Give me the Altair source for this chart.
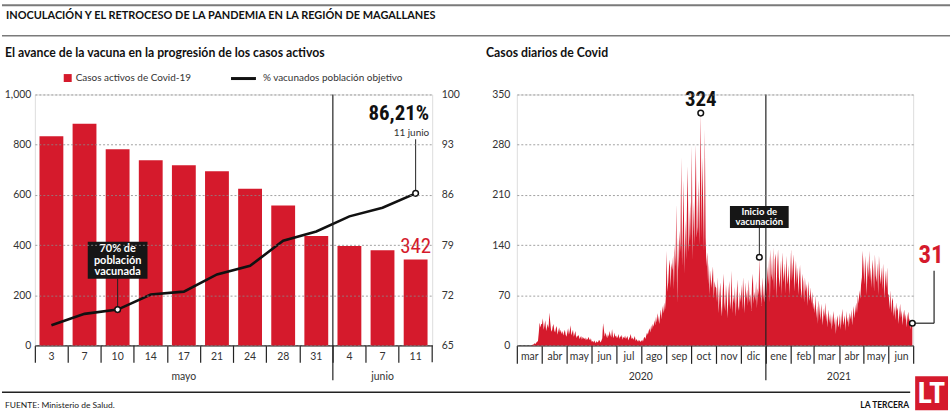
import altair as alt
import pandas as pd

# ------------------------------------------------------------------ data
dias = ["3", "7", "10", "14", "17", "21", "24", "28", "31", "4", "7", "11"]
meses = ["mayo"] * 9 + ["junio"] * 3
casos_activos = [834, 883, 782, 738, 718, 694, 624, 558, 436, 396, 379, 342]
pct_vacunados = [67.8, 69.4, 70.0, 72.1, 72.5, 74.9, 76.1, 79.6, 80.9, 83.0, 84.2, 86.21]
ticks_casos = [0, 200, 400, 600, 800, 1000]
ticks_pct = [65, 72, 79, 86, 93, 100]

ticks_diarios = [0, 70, 140, 210, 280, 350]
meses_cortos = ["ene", "feb", "mar", "abr", "may", "jun", "jul", "ago", "sep", "oct", "nov", "dic"]

d2020_03 = [0, 0, 0, 0, 0, 0, 0, 0, 0, 0, 0, 0, 0, 0, 0, 0, 0, 0, 0,
            1, 1, 2, 3, 2, 4, 5, 6, 18, 32, 25, 30]
d2020_04 = [30, 38, 22, 28, 35, 20, 25, 30, 24, 46, 33, 22, 19, 26, 30, 21, 18, 24, 27, 15,
            20, 25, 18, 22, 16, 20, 14, 18, 22, 15]
d2020_05 = [12, 18, 24, 15, 20, 28, 14, 18, 22, 12, 16, 20, 10, 14, 12, 15, 9, 11, 13, 8,
            12, 10, 9, 11, 7, 10, 8, 12, 9, 7, 10]
d2020_06 = [5, 6, 4, 7, 5, 3, 6, 4, 5, 8, 6, 4, 7, 10, 31, 22, 12, 18, 14, 10,
            16, 12, 20, 15, 11, 23, 14, 10, 18, 12]
d2020_07 = [14, 10, 12, 16, 9, 13, 11, 15, 8, 12, 10, 14, 9, 11, 13, 7, 10, 12, 16, 9,
            11, 8, 10, 13, 6, 9, 7, 5, 8, 6, 5]
d2020_08 = [6, 8, 5, 10, 12, 9, 14, 18, 15, 20, 24, 18, 28, 22, 30, 26, 35, 28, 40, 32,
            45, 38, 30, 42, 50, 36, 55, 45, 60, 48, 65]
d2020_09 = [132, 75, 88, 110, 120, 80, 115, 105, 125, 78, 140, 110, 197, 58, 150, 105, 160, 130, 262, 110,
            165, 230, 100, 175, 120, 190, 250, 130, 155, 200]
d2020_10 = [145, 278, 120, 200, 140, 210, 280, 150, 165, 230, 140, 215, 324, 150, 262, 195, 130, 301, 150, 110,
            130, 85, 115, 70, 105, 80, 95, 110, 65, 90, 82]
d2020_11 = [80, 60, 95, 45, 70, 88, 55, 40, 75, 100, 60, 48, 85, 65, 38, 72, 90, 50, 62, 104,
            45, 70, 58, 82, 40, 66, 92, 55, 48, 75]
d2020_12 = [60, 85, 50, 95, 70, 45, 88, 65, 78, 55, 92, 60, 72, 48, 86, 100, 58, 75, 62, 90,
            52, 80, 70, 123, 65, 85, 55, 95, 72, 60, 88]
d2021_01 = [95, 70, 110, 85, 125, 60, 134, 100, 90, 137, 75, 120, 128, 65, 110, 134, 95, 80, 118, 70,
            130, 105, 88, 115, 72, 125, 98, 85, 112, 70, 100]
d2021_02 = [134, 90, 110, 127, 75, 100, 118, 85, 109, 70, 95, 112, 80, 65, 100, 88, 60, 95, 75, 86,
            55, 90, 70, 62, 81, 58, 75, 50]
d2021_03 = [60, 45, 70, 38, 55, 30, 63, 48, 35, 58, 42, 28, 52, 40, 60, 33, 45, 25, 50, 38,
            30, 44, 22, 36, 48, 28, 40, 16, 34, 42, 25]
d2021_04 = [30, 44, 22, 38, 51, 28, 35, 42, 20, 48, 32, 40, 25, 46, 36, 50, 28, 42, 55, 38,
            49, 60, 45, 70, 58, 77, 65, 85, 95, 132]
d2021_05 = [110, 85, 125, 100, 70, 118, 95, 132, 90, 109, 80, 120, 105, 75, 127, 98, 88, 115, 70, 125,
            100, 85, 109, 78, 114, 92, 65, 105, 80, 109, 72]
d2021_06 = [70, 50, 77, 45, 62, 67, 40, 55, 35, 60, 48, 53, 30, 45, 58, 38, 49, 28, 42, 50,
            35, 44, 25, 40, 47, 33, 38, 22, 35, 31]

serie_meses = {
    "2020-03": d2020_03, "2020-04": d2020_04, "2020-05": d2020_05, "2020-06": d2020_06,
    "2020-07": d2020_07, "2020-08": d2020_08, "2020-09": d2020_09, "2020-10": d2020_10,
    "2020-11": d2020_11, "2020-12": d2020_12, "2021-01": d2021_01, "2021-02": d2021_02,
    "2021-03": d2021_03, "2021-04": d2021_04, "2021-05": d2021_05, "2021-06": d2021_06,
}
fecha_vacunacion = "2020-12-24"
fecha_division = "2021-01-01"

# ------------------------------------------------------------------ tables
keys = [f"{d} {m}" for d, m in zip(dias, meses)]
df_left = pd.DataFrame({"key": keys, "casos": casos_activos, "pct": pct_vacunados})

rows = []
for mes, vals in serie_meses.items():
    start = pd.Timestamp(mes + "-01")
    for i, v in enumerate(vals):
        rows.append({"fecha": start + pd.Timedelta(days=i), "casos": v})
df_daily = pd.DataFrame(rows)
df_peak = df_daily[df_daily.casos == df_daily.casos.max()]
df_vac = df_daily[df_daily.fecha == pd.Timestamp(fecha_vacunacion)]
df_end = df_daily.tail(1)
df_div = pd.DataFrame({"fecha": [pd.Timestamp(fecha_division)]})

# ------------------------------------------------------------------ styles
RED = "#d51a2c"
FONT = "Lato"
COND = ("Noto Sans ExtraCondensed, Noto Sans Condensed, Roboto Condensed, Open Sans Condensed, "
        "Liberation Sans Narrow, DejaVu Sans Condensed, Arial Narrow, Roboto")
LBL = "#333333"
W1, W2, H = 399, 398, 252
STEP = W1 / 12
dummy = pd.DataFrame({"d": [0]})


def dtext(text, x, y, size, color="#222222", weight="normal", align="left",
          font=FONT, baseline="middle", lh=None):
    kw = dict(text=text, fontSize=size, color=color, fontWeight=weight,
              align=align, font=font, baseline=baseline)
    if lh:
        kw["lineHeight"] = lh
    return alt.Chart(dummy).mark_text(**kw).encode(x=alt.value(x), y=alt.value(y))


def drule(x, y, x2, y2, color="#222222", width=1.0):
    return alt.Chart(dummy).mark_rule(color=color, strokeWidth=width).encode(
        x=alt.value(x), y=alt.value(y), x2=alt.value(x2), y2=alt.value(y2))


def drect(x, y, x2, y2, color, opacity=1.0):
    return alt.Chart(dummy).mark_rect(color=color, opacity=opacity).encode(
        x=alt.value(x), y=alt.value(y), x2=alt.value(x2), y2=alt.value(y2))


# ------------------------------------------------------------------ left panel
x_left = alt.X(
    "key:N", sort=keys,
    scale=alt.Scale(paddingInner=0, paddingOuter=0),
    axis=alt.Axis(title=None, bandPosition=0, labelExpr="split(datum.label, ' ')[0]",
                  labelOffset=0, labelAngle=0, labelAlign="center", tickSize=17,
                  labelPadding=-11, domainColor="#222222", tickColor="#222222",
                  domainWidth=1.2, tickWidth=1.2, labelFont=FONT, labelFontSize=10.5,
                  labelColor=LBL, grid=False))

y_casos = alt.Y("casos:Q", scale=alt.Scale(domain=[0, 1000], nice=False),
                axis=alt.Axis(values=ticks_casos, orient="left", title=None, domain=False,
                              ticks=False, labelPadding=4, grid=True, gridDash=[2, 2],
                              gridColor="#8a8a8a", gridWidth=0.8, zindex=1, labelFont=FONT,
                              labelFontSize=10.5, labelColor=LBL))
y_pct = alt.Y("pct:Q", scale=alt.Scale(domain=[65, 100], nice=False, zero=False),
              axis=alt.Axis(values=ticks_pct, orient="right", title=None, domain=False,
                            ticks=False, grid=False, labelPadding=9, labelFont=FONT,
                            labelFontSize=10.5, labelColor=LBL))

bars = alt.Chart(df_left).mark_bar(color=RED, width={"band": 0.72}).encode(x=x_left, y=y_casos)
lab342 = alt.Chart(df_left).transform_filter(f"datum.key == '{keys[-1]}'").mark_text(
    font=COND, fontSize=21, color=RED, baseline="bottom", dy=-3).encode(
    x=x_left, y=y_casos, text=alt.Text("casos:Q"))
group_casos = alt.layer(bars, lab342)

line = alt.Chart(df_left).mark_line(color="#111111", strokeWidth=2.6).encode(x=x_left, y=y_pct)
lead86 = alt.Chart(df_left).transform_filter(f"datum.key == '{keys[-1]}'").mark_rule(
    color="#222222", strokeWidth=1).encode(x=x_left, y=y_pct, y2=alt.value(45))
lead70 = alt.Chart(df_left).transform_filter(f"datum.key == '{keys[2]}'").mark_rule(
    color="#222222", strokeWidth=1).encode(x=x_left, y=y_pct, y2=alt.value(185))
pts = alt.Chart(df_left).transform_filter(
    f"datum.key == '{keys[2]}' || datum.key == '{keys[-1]}'").mark_point(
    filled=True, fill="white", stroke="#111111", strokeWidth=1.5, size=32, opacity=1).encode(
    x=x_left, y=y_pct)
group_pct = alt.layer(line, lead86, lead70, pts)

cx70 = 2.5 * STEP
left_deco = [
    # bounding frame for the whole picture (invisible)
    drect(-33, -93, 919, 321, "white", 0),
    # header
    drule(-33, -89.5, 919, -89.5, "#7a7a7a", 2),
    dtext("INOCULACIÓN Y EL RETROCESO DE LA PANDEMIA EN LA REGIÓN DE MAGALLANES",
          -29, -78.5, 11, "#111111", "bold"),
    drule(-33, -59, 919, -59, "#7a7a7a", 1.5),
    dtext("El avance de la vacuna en la progresión de los casos activos",
          -30, -41.5, 12.3, "#111111", "bold"),
    dtext("Casos diarios de Covid", 453, -41.5, 12.3, "#111111", "bold"),
    # legend
    drect(29, -20.5, 37, -12.5, RED),
    dtext("Casos activos de Covid-19", 41, -16.5, 10, LBL),
    drule(197, -16, 222, -16, "#111111", 3),
    dtext("% vacunados población objetivo", 229, -16.5, 10, LBL),
    # x-axis extras
    drule(W1, H, W1, H + 17, "#222222", 1.2),
    drule(9 * STEP, 0, 9 * STEP, 287, "#222222", 1.2),
    dtext("mayo", 4.5 * STEP, 283.5, 10.5, LBL, align="center"),
    dtext("junio", 10.5 * STEP, 283.5, 10.5, LBL, align="center"),
    # annotations
    dtext("86,21%", 396, 19.5, 21, "#111111", "bold", "right", COND),
    dtext("11 junio", 396, 38.5, 10, LBL, align="right"),
    drect(cx70 - 30, 148, cx70 + 30, 185, "#161616"),
    dtext(["70% de", "población", "vacunada"], cx70, 155.5, 11, "white", "bold", "center", lh=11.5),
    # footer
    drule(-33, 299, 879, 299, "#222222", 1.5),
    dtext("FUENTE: Ministerio de Salud.", -30, 311.5, 8.5, "#222222"),
    dtext("LA TERCERA", 878, 311.5, 8.5, "#111111", "bold", "right"),
    drect(884, 283, 917, 317, RED),
    dtext("LT", 900.5, 301, 30, "white", "bold", "center", COND),
]

left = alt.layer(group_casos, group_pct, *left_deco).resolve_scale(y="independent").properties(
    width=W1, height=H)

# ------------------------------------------------------------------ right panel
month_expr = ("datum.value >= datetime(2021, 6, 1) ? '' : "
              + str(meses_cortos).replace('"', "'") + "[month(datum.value)]")
x_right = alt.X(
    "fecha:T",
    scale=alt.Scale(domain=[alt.DateTime(year=2020, month=3, date=1),
                            alt.DateTime(year=2021, month=7, date=1)], nice=False),
    axis=alt.Axis(title=None, tickCount={"interval": "month", "step": 1}, labelExpr=month_expr,
                  labelOffset=12.4, labelAlign="center", labelFlush=False, labelOverlap=False,
                  tickSize=18, labelPadding=-12, domainColor="#222222", tickColor="#222222",
                  domainWidth=1.2, tickWidth=1.2, labelFont=FONT, labelFontSize=10.5,
                  labelColor=LBL, grid=False))
y_diarios = alt.Y("casos:Q", scale=alt.Scale(domain=[0, 350], nice=False),
                  axis=alt.Axis(values=ticks_diarios, title=None, domain=False, ticks=False,
                                labelPadding=7, grid=True, gridDash=[2, 2], gridColor="#8a8a8a",
                                gridWidth=0.8, zindex=1, labelFont=FONT, labelFontSize=10.5,
                                labelColor=LBL))

area = alt.Chart(df_daily).mark_area(color=RED, interpolate="linear").encode(x=x_right, y=y_diarios)
divider = alt.Chart(df_div).mark_rule(color="#222222", strokeWidth=1.2).encode(
    x=x_right, y=alt.value(0), y2=alt.value(287))

peak_txt = alt.Chart(df_peak).mark_text(font=COND, fontSize=21, fontWeight="bold", color="#111111",
                                        baseline="alphabetic", dy=-7).encode(
    x=x_right, y=y_diarios, text=alt.Text("casos:Q"))
vac_lead = alt.Chart(df_vac).mark_rule(color="#222222", strokeWidth=1).encode(
    x=x_right, y=y_diarios, y2=alt.value(134))
end_h = alt.Chart(df_end).mark_rule(color="#222222", strokeWidth=1.2).encode(
    x=x_right, x2=alt.value(419), y=y_diarios)
end_v = alt.Chart(df_end).mark_rule(color="#222222", strokeWidth=1.2).encode(
    x=alt.value(419), y=y_diarios, y2=alt.value(177))
end_txt = dtext("31", 416, 161, 25, RED, "bold", "center", COND)
circles = alt.Chart(pd.concat([df_peak, df_vac, df_end])).mark_point(
    filled=True, fill="white", stroke="#111111", strokeWidth=1.5, size=32, opacity=1).encode(
    x=x_right, y=y_diarios)

right_deco = [
    drect(214, 112, 273, 134, "#161616"),
    dtext(["Inicio de", "vacunación"], 243.5, 117.8, 9.5, "white", "bold", "center", lh=10.5),
    dtext("2020", 124.5, 283.5, 10.5, LBL, align="center"),
    dtext("2021", 323.5, 283.5, 10.5, LBL, align="center"),
    end_txt,
]

right = alt.layer(area, divider, vac_lead, end_h, end_v, peak_txt, circles, *right_deco).properties(
    width=W2, height=H)

chart = alt.hconcat(left, right, spacing=85, bounds="flush").properties(padding=0).configure_view(
    strokeWidth=0).configure(background="white")

chart.save("out.html", embed_options={"renderer": "svg", "actions": False})
